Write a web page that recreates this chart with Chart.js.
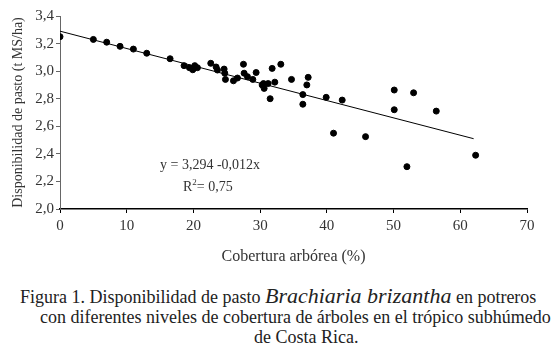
<!DOCTYPE html>
<html>
<head>
<meta charset="utf-8">
<script src="https://cdn.jsdelivr.net/npm/chart.js@4/dist/chart.umd.min.js"></script>
<style>
  body { margin: 0; background: #fff; }
  #wrap { position: relative; width: 553px; height: 348px; font-family: "Liberation Serif", "Times New Roman", "DejaVu Serif", serif; color: #222; }
  #chart { position: absolute; left: 0; top: 0; }
  .eq { position: absolute; font-size: 14px; white-space: nowrap; color: #333; }
  .cap { position: absolute; font-size: 18px; line-height: 21px; white-space: nowrap; }
  .cap i { font-size: 22px; }
</style>
</head>
<body>
<div id="wrap">
  <canvas id="chart" width="553" height="270"></canvas>
  <div class="eq" style="left:160px; top:157px;">y = 3,294 -0,012x</div>
  <div class="eq" style="left:183px; top:177px;">R<sup style="font-size:9px">2</sup>= 0,75</div>
  <div class="cap" style="left:20px; top:285px;">Figura 1. Disponibilidad de pasto <i>Brachiaria brizantha</i> en potreros</div>
  <div class="cap" style="left:40px; top:307px;">con diferentes niveles de cobertura de árboles en el trópico subhúmedo</div>
  <div class="cap" style="left:254px; top:327px;">de Costa Rica.</div>
</div>
<script>
// Cobertura arbórea (%) and disponibilidad de pasto (t MS/ha)
const coverage = [0, 5, 7, 9, 11, 13, 16.5, 18.6, 19.4, 19.9, 20.6, 20.2, 22.6, 23.4, 23.6, 24.6, 24.7, 24.8,
  26, 26.6, 27.5, 27.6, 28.1, 28.9, 29.4, 30.3, 30.6, 30.5, 31.2, 31.5, 31.8, 33.1, 32.2, 34.7, 37.2, 37,
  36.4, 36.4, 39.9, 42.3, 50.1, 53, 50.1, 56.4, 41, 45.8, 52, 62.3];
const pasture = [3.25, 3.23, 3.21, 3.18, 3.16, 3.13, 3.09, 3.04, 3.025, 3.01, 3.025, 3.04, 3.057, 3.03, 3.008, 3.015, 2.985, 2.94,
  2.93, 2.95, 3.05, 2.985, 2.96, 2.94, 2.99, 2.90, 2.875, 2.91, 2.91, 2.80, 3.02, 3.05, 2.92, 2.94, 2.955, 2.90,
  2.83, 2.76, 2.81, 2.79, 2.863, 2.843, 2.72, 2.71, 2.55, 2.525, 2.307, 2.39];

// fitted line end points
const trendX = [0, 62];
const trendY = [3.29, 2.51];

const yTicks = [2.0, 2.2, 2.4, 2.6, 2.8, 3.0, 3.2, 3.4];
const xTicks = [0, 10, 20, 30, 40, 50, 60, 70];

const points = coverage.map((x, i) => ({ x: x, y: pasture[i] }));
const trend = trendX.map((x, i) => ({ x: x, y: trendY[i] }));

const serif = '"Liberation Serif", "Times New Roman", "DejaVu Serif", serif';
const tickFont = { family: serif, size: 15 };

new Chart(document.getElementById('chart').getContext('2d'), {
    type: 'scatter',
    data: {
        datasets: [
            {
                label: 'datos',
                data: points,
                backgroundColor: '#000',
                borderColor: '#000',
                pointRadius: 3,
                pointHoverRadius: 3
            },
            {
                type: 'line',
                label: 'tendencia',
                data: trend,
                borderColor: '#000',
                borderWidth: 1,
                pointRadius: 0,
                fill: false
            }
        ]
    },
    options: {
        responsive: false,
        animation: false,
        layout: { padding: { left: 10, top: 16, right: 26, bottom: 0 } },
        plugins: { legend: { display: false }, tooltip: { enabled: false } },
        scales: {
            x: {
                type: 'linear',
                min: 0,
                max: 70,
                afterBuildTicks: s => { s.ticks = xTicks.map(v => ({ value: v })); },
                afterFit: s => { s.height = 61; },
                ticks: { font: tickFont, color: '#333', padding: 4 },
                grid: { drawOnChartArea: false, drawTicks: true, tickLength: 4, color: '#000' },
                border: { display: true, color: '#000', width: 1.5 },
                title: { display: true, text: 'Cobertura arbórea (%)', font: { family: serif, size: 16 }, color: '#333', padding: { top: 6 } }
            },
            y: {
                min: 2,
                max: 3.4,
                afterBuildTicks: s => { s.ticks = yTicks.map(v => ({ value: v })); },
                afterFit: s => { s.width = 50; },
                ticks: {
                    font: tickFont, color: '#333', padding: 2,
                    callback: v => v.toFixed(1).replace('.', ',')
                },
                grid: { drawOnChartArea: false, drawTicks: true, tickLength: 4, color: '#666' },
                border: { display: true, color: '#666', width: 1 },
                title: { display: true, text: 'Disponibilidad de pasto (t MS/ha)', font: { family: serif, size: 14 }, color: '#333', padding: 0 }
            }
        }
    }
});
</script>
</body>
</html>
